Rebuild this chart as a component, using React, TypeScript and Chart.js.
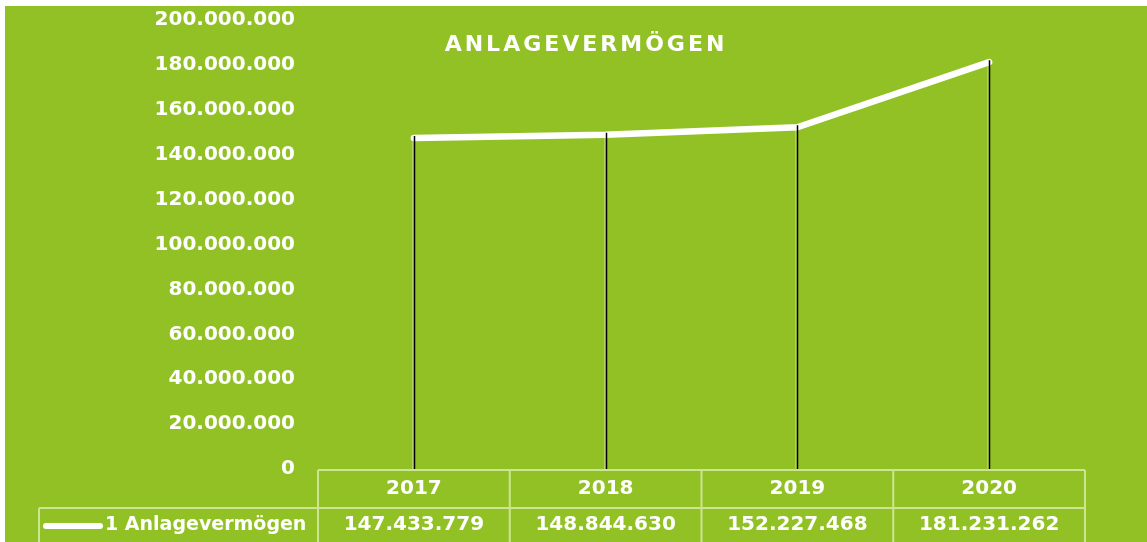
import React, { useEffect, useRef } from "react";
import { Chart, registerables } from "chart.js";

Chart.register(...registerables);

const categories = ["2017", "2018", "2019", "2020"];
const seriesName = "1 Anlagevermögen";
const values = [147433779, 148844630, 152227468, 181231262];
const chartTitle = "ANLAGEVERMÖGEN";
const yMin = 0;
const yMax = 200000000;
const yStep = 20000000;

const W = 1147;
const H = 542;
const GREEN = "#92c125";
const BORDER = "#cbe693";
const FONT = "'DejaVu Sans', Verdana, sans-serif";

function fmt(v: number): string {
  const s = Math.round(v).toString();
  return s.replace(/\B(?=(\d{3})+(?!\d))/g, ".");
}

const decorPlugin = {
  id: "decor",
  beforeDraw(chart: any) {
    const ctx = chart.ctx;
    ctx.save();
    ctx.fillStyle = "#ffffff";
    ctx.fillRect(0, 0, W, H);
    ctx.fillStyle = GREEN;
    ctx.fillRect(5, 6, W - 5, H - 6);
    ctx.restore();
  },
  afterDatasetsDraw(chart: any) {
    const ctx = chart.ctx;
    const meta = chart.getDatasetMeta(0);
    const bottom = chart.chartArea.bottom;
    ctx.save();
    meta.data.forEach((pt: any) => {
      const x = Math.round(pt.x);
      ctx.strokeStyle = "rgba(255,255,255,0.55)";
      ctx.lineWidth = 1;
      ctx.beginPath();
      ctx.moveTo(x - 1, pt.y);
      ctx.lineTo(x - 1, bottom);
      ctx.stroke();
      ctx.strokeStyle = "#000000";
      ctx.lineWidth = 1.5;
      ctx.beginPath();
      ctx.moveTo(x + 0.5, pt.y - 2);
      ctx.lineTo(x + 0.5, bottom);
      ctx.stroke();
    });
    ctx.restore();
  },
  afterDraw(chart: any) {
    const ctx = chart.ctx;
    const area = chart.chartArea;
    const left = area.left;
    const right = area.right;
    const top = area.bottom + 1;
    const mid = top + 38;
    const bot = H + 4;
    const legendLeft = 39;
    const n = categories.length;
    const colW = (right - left) / n;

    ctx.save();
    ctx.strokeStyle = BORDER;
    ctx.lineWidth = 2;
    ctx.beginPath();
    ctx.moveTo(left, top);
    ctx.lineTo(right, top);
    ctx.moveTo(legendLeft, mid);
    ctx.lineTo(right, mid);
    ctx.moveTo(legendLeft, mid);
    ctx.lineTo(legendLeft, bot);
    for (let i = 0; i <= n; i++) {
      const x = left + i * colW;
      ctx.moveTo(x, top);
      ctx.lineTo(x, bot);
    }
    ctx.stroke();

    ctx.fillStyle = "#ffffff";
    ctx.font = `bold 20px ${FONT}`;
    ctx.textAlign = "center";
    ctx.textBaseline = "middle";
    const xs = chart.scales.x;
    categories.forEach((c, i) => {
      const cx = xs.getPixelForValue(i);
      ctx.fillText(c, cx, (top + mid) / 2);
      ctx.fillText(fmt(values[i]), cx, mid + 17);
    });

    ctx.strokeStyle = "#ffffff";
    ctx.lineWidth = 6;
    ctx.lineCap = "round";
    ctx.beginPath();
    ctx.moveTo(46, mid + 18);
    ctx.lineTo(100, mid + 18);
    ctx.stroke();
    ctx.font = `bold 19px ${FONT}`;
    ctx.textAlign = "left";
    ctx.fillText(seriesName, 105, mid + 17);

    ctx.font = `bold 22px ${FONT}`;
    ctx.textAlign = "center";
    (ctx as any).letterSpacing = "3px";
    ctx.fillText(chartTitle, 586, 45);
    ctx.restore();
  },
};

export default function App() {
  const ref = useRef<HTMLCanvasElement | null>(null);
  useEffect(() => {
    if (!ref.current) return;
    const chart = new Chart(ref.current, {
      type: "line",
      data: {
        labels: categories,
        datasets: [
          {
            label: seriesName,
            data: values,
            borderColor: "#ffffff",
            borderWidth: 6.5,
            borderCapStyle: "round",
            borderJoinStyle: "round",
            pointRadius: 0,
            pointHoverRadius: 0,
            tension: 0,
            fill: false,
          },
        ],
      },
      options: {
        responsive: false,
        animation: false,
        events: [],
        layout: { padding: { left: 0, right: 62, top: 20, bottom: 73 } },
        plugins: {
          legend: { display: false },
          title: { display: false },
          tooltip: { enabled: false },
        },
        scales: {
          x: {
            type: "category",
            display: false,
            offset: true,
          },
          y: {
            min: yMin,
            max: yMax,
            border: { display: false },
            grid: { display: false, drawTicks: false },
            afterFit: (scale: any) => {
              scale.width = 318;
              scale.paddingTop = 0;
              scale.paddingBottom = 0;
            },
            ticks: {
              stepSize: yStep,
              padding: 23,
              color: "#ffffff",
              font: { family: FONT, size: 20, weight: "bold" },
              callback: (v: any) => fmt(Number(v)),
            },
          },
        },
      },
      plugins: [decorPlugin],
    });
    return () => chart.destroy();
  }, []);
  return (
    <div style={{ position: "absolute", left: 0, top: 0, width: W, height: H }}>
      <canvas ref={ref} width={W} height={H} style={{ display: "block", width: W, height: H }} />
    </div>
  );
}
